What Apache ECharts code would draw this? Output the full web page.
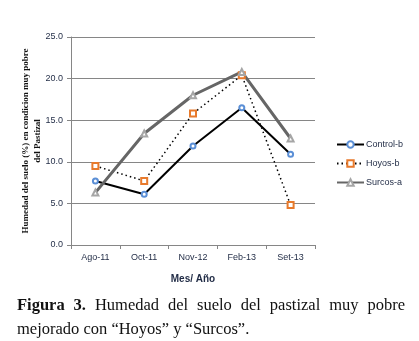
<!DOCTYPE html>
<html>
<head>
<meta charset="utf-8">
<script src="https://cdn.jsdelivr.net/npm/echarts@6/dist/echarts.min.js"></script>
<style>
html,body{margin:0;padding:0;background:#fff;}
#wrap{position:relative;width:419px;height:341px;}
#chart{position:absolute;left:0;top:0;width:419px;height:341px;}
#cap{position:absolute;left:17px;top:293px;width:388px;font-family:"Liberation Serif","Times New Roman",serif;font-size:16.5px;line-height:24px;color:#111;text-align:justify;text-align-last:left;}
</style>
</head>
<body>
<div id="wrap">
<div id="chart"></div>
<div id="cap"><b>Figura 3.</b> Humedad del suelo del pastizal muy pobre mejorado con “Hoyos” y “Surcos”.</div>
</div>
<script>
var categories = ['Ago-11', 'Oct-11', 'Nov-12', 'Feb-13', 'Set-13'];
var controlB = [7.7, 6.1, 11.9, 16.5, 10.9];
var hoyosB = [9.5, 7.7, 15.8, 20.4, 4.8];
var surcosA = [6.3, 13.4, 18.0, 20.8, 12.8];
var seriesNames = ['Control-b', 'Hoyos-b', 'Surcos-a'];

var chart = echarts.init(document.getElementById('chart'));
var labelColor = '#1f2a44';
chart.setOption({
  animation: false,
  backgroundColor: '#fff',
  grid: {left: 71, right: 104, top: 37, bottom: 96},
  legend: {
    orient: 'vertical',
    left: 331, top: 135,
    itemWidth: 27, itemHeight: 8, itemGap: 10,
    textStyle: {fontFamily: 'Liberation Sans', fontSize: 9, color: labelColor, padding: [0,0,0,-3]},
    data: seriesNames
  },
  xAxis: {
    type: 'category',
    data: categories,
    boundaryGap: true,
    name: 'Mes/ Año',
    nameLocation: 'middle',
    nameGap: 29,
    nameMoveOverlap: false,
    nameTextStyle: {fontFamily: 'Liberation Sans', fontWeight: 'bold', fontSize: 10, color: labelColor},
    axisLine: {lineStyle: {color: '#868686', width: 1}},
    axisTick: {show: true, length: 4, lineStyle: {color: '#868686'}},
    axisLabel: {fontFamily: 'Liberation Sans', fontSize: 9, color: labelColor, margin: 8}
  },
  yAxis: {
    type: 'value',
    min: 0, max: 25, interval: 5,
    name: 'Humedad del suelo (%) en condicion muy pobre\ndel Pastizal',
    nameLocation: 'middle',
    nameGap: 39,
    nameRotate: 90,
    nameMoveOverlap: false,
    nameTextStyle: {fontFamily: 'Liberation Serif', fontWeight: 'bold', fontSize: 9, color: '#111', lineHeight: 12, verticalAlign: 'middle'},
    axisLine: {show: true, lineStyle: {color: '#868686', width: 1}},
    axisTick: {show: true, length: 4, lineStyle: {color: '#868686'}},
    axisLabel: {fontFamily: 'Liberation Sans', fontSize: 9, color: labelColor, margin: 8,
      formatter: function (v) { return v.toFixed(1); }},
    splitLine: {lineStyle: {color: '#868686', width: 1}}
  },
  series: [
    {
      name: seriesNames[0], type: 'line', data: controlB,
      symbol: 'emptyCircle', symbolSize: 5,
      lineStyle: {color: '#000', width: 2},
      itemStyle: {color: '#5b8fd6', borderWidth: 1}
    },
    {
      name: seriesNames[1], type: 'line', data: hoyosB,
      symbol: 'emptyRect', symbolSize: 6,
      lineStyle: {color: '#000', width: 1.5, type: [1.5, 3]},
      itemStyle: {color: '#e87a2c', borderWidth: 1}
    },
    {
      name: seriesNames[2], type: 'line', data: surcosA,
      symbol: 'emptyTriangle', symbolSize: 6,
      lineStyle: {color: '#666', width: 3},
      itemStyle: {color: '#a6a6a6', borderWidth: 1}
    }
  ]
});
</script>
</body>
</html>
